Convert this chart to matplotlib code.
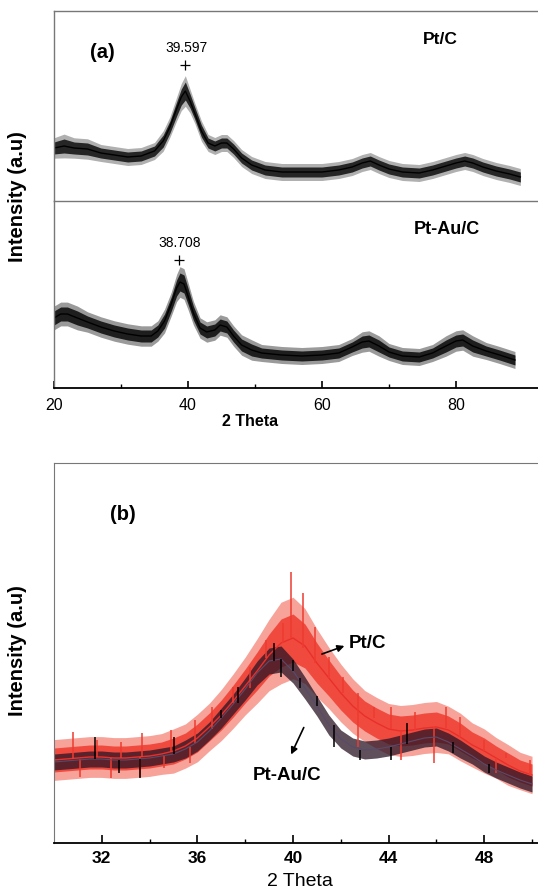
import numpy as np
import matplotlib
matplotlib.use('Agg')
import matplotlib.pyplot as plt

plt.rcParams['font.family'] = ['Liberation Sans', 'DejaVu Sans']

# ---- panel (a): wide scan, two stacked traces ----
a_x = [20, 21.5, 23, 25, 27, 29, 31, 33, 35, 36.3, 37.3, 38.3, 39.0, 39.6, 40.3, 41.0, 42.0,
       43.0, 44.0, 45.0, 45.8, 46.8, 48.0, 49.5, 51.5, 54, 57, 60, 62.5, 64.5, 66, 67.2,
       68.5, 70, 72, 74.5, 76.5, 78.5, 80, 81.3, 82.5, 84, 86, 88, 89.6]
a_ptc = [53, 55, 53, 52, 48, 46, 44, 45, 50, 60, 74, 92, 104, 110, 100, 88, 70,
         58, 55, 58, 58, 52, 43, 36, 31, 29, 29, 29, 31, 34, 38, 40,
         36, 32, 29, 28, 31, 35, 38, 40, 38, 34, 30, 27, 24]
a_ptc_noise = [6, 7, 6, 6, 5, 5, 5, 5, 5, 6, 6, 7, 8, 9, 7, 6, 6,
               5, 5, 5, 5, 5, 5, 5, 5, 5, 5, 5, 5, 5, 5, 5,
               5, 5, 5, 5, 5, 5, 5, 5, 5, 5, 5, 5, 5]

a2_x = [20, 21, 22, 23.5, 25, 27, 29, 31, 33, 34.5, 35.5, 36.5, 37.5, 38.3, 38.8, 39.4, 40.0,
        40.8, 41.8, 42.8, 44.0, 44.8, 45.8, 46.8, 48, 49.5, 51, 54, 57, 60, 62.5, 64.5,
        66, 67, 68.5, 70, 72, 74.5, 76.5, 78.5, 80, 81, 82.5, 84.5, 86.5, 88.8]
a_ptau = [70, 74, 74, 70, 66, 61, 57, 54, 52, 52, 57, 67, 84, 100, 106, 104, 92,
          75, 60, 56, 58, 63, 61, 52, 43, 38, 35, 33, 32, 33, 35, 41,
          46, 47, 42, 36, 32, 31, 35, 42, 47, 48, 42, 37, 33, 28]
a_ptau_noise = [7, 7, 7, 7, 6, 6, 6, 6, 6, 6, 6, 7, 7, 8, 9, 9, 8,
                7, 6, 6, 6, 6, 6, 6, 6, 6, 5, 5, 5, 5, 5, 5,
                6, 6, 6, 5, 5, 5, 5, 6, 6, 6, 6, 5, 5, 5]

# ---- panel (b): zoom on the (111) peak ----
b_x = [30.0, 30.5, 31.0, 31.5, 32.0, 32.5, 33.0, 33.5, 34.0, 34.5, 35.0, 35.5, 36.0, 36.5,
       37.0, 37.5, 38.0, 38.5, 39.0, 39.5, 40.0, 40.5, 41.0, 41.5, 42.0, 42.5, 43.0, 43.5,
       44.0, 44.5, 45.0, 45.5, 46.0, 46.5, 47.0, 47.5, 48.0, 48.5, 49.0, 49.5, 50.0]
b_ptc = [83, 84, 85, 86, 86, 85, 85, 86, 87, 89, 92, 97, 105, 116,
         128, 142, 157, 172, 188, 200, 205, 197, 180, 165, 150, 137, 127, 120,
         114, 112, 113, 115, 116, 113, 106, 98, 92, 85, 78, 72, 68]
b_ptc_noise = [12, 12, 12, 12, 12, 12, 12, 12, 12, 12, 13, 13, 14, 14,
               15, 16, 17, 19, 21, 24, 24, 22, 20, 18, 17, 16, 15, 15,
               15, 15, 15, 15, 15, 14, 14, 13, 13, 12, 12, 11, 11]
b_ptau = [81, 82, 83, 84, 84, 83, 83, 84, 85, 87, 89, 94, 101, 112,
          125, 139, 154, 170, 182, 184, 172, 155, 137, 118, 104, 96, 93, 94,
          96, 99, 102, 105, 106, 101, 94, 87, 79, 73, 68, 63, 59]
b_ptau_noise = [8, 8, 8, 8, 8, 8, 8, 8, 8, 8, 8, 9, 9, 9,
                10, 10, 11, 12, 13, 13, 12, 11, 10, 10, 9, 9, 9, 9,
                9, 9, 9, 9, 9, 9, 9, 8, 8, 8, 8, 8, 8]

# single noise spikes (x, bottom, top)
b_ptc_spk_x = [30.8, 31.1, 31.8, 32.4, 32.8, 33.6, 33.7, 34.6, 34.9, 35.7, 35.9, 36.6, 37.5, 38.2,
               38.85, 39.6, 39.9, 40.4, 40.9, 41.5, 42.1, 42.7, 42.7, 43.4, 44.1, 44.5, 45.1,
               45.9, 46.4, 47.0, 48.0, 48.5, 48.9, 49.9]
b_ptc_spk_lo = [84, 66, 86, 65, 85, 66, 86, 75, 91, 80, 100, 114, 140, 155,
                185, 200, 205, 195, 180, 165, 150, 96, 137, 125, 114, 83, 113,
                80, 115, 106, 92, 70, 85, 68]
b_ptc_spk_hi = [111, 84, 103, 85, 101, 86, 110, 88, 113, 96, 123, 136, 156, 176,
                203, 220, 271, 250, 216, 186, 166, 137, 150, 136, 136, 112, 131,
                116, 136, 126, 103, 85, 90, 83]
b_ptau_spk_x = [31.7, 32.7, 33.6, 35.0, 37.0, 37.7, 39.2, 39.5, 40.0, 40.3, 41.0, 41.7, 42.8,
                44.1, 44.75, 46.7, 48.2]
b_ptau_spk_lo = [84, 70, 65, 89, 125, 140, 182, 166, 172, 155, 137, 96, 83, 83, 99, 90, 70]
b_ptau_spk_hi = [106, 83, 84, 106, 133, 156, 200, 184, 183, 165, 147, 118, 93, 96, 120, 101, 79]


def band(ax, x, y, n, line, core, fringe, lw=1.0):
    x = np.array(x, dtype=float)
    y = np.array(y, dtype=float)
    n = np.array(n, dtype=float)
    ax.fill_between(x, y - 1.7 * n, y + 1.7 * n, color=fringe, lw=0)
    ax.fill_between(x, y - n, y + n, color=core, lw=0)
    ax.plot(x, y, color=line, lw=lw)


W, H = 538, 892
fig = plt.figure(figsize=(W / 100, H / 100), dpi=100)
frame = '#777777'

def px_ax(l, t, r, b):
    return fig.add_axes([l / W, 1 - b / H, (r - l) / W, (b - t) / H])

a1 = px_ax(54, 11, 545, 201)
a2 = px_ax(54, 201, 545, 388)
for ax in (a1, a2):
    ax.set_xlim(20, 20 + 491 / 6.7)
    ax.set_yticks([])
    for s in ax.spines.values():
        s.set_color(frame)
        s.set_linewidth(1.0)
a1.set_ylim(0, 190)
a2.set_ylim(0, 187)
a1.set_xticks([])
a1.spines['bottom'].set_visible(False)

band(a1, a_x, a_ptc, a_ptc_noise, 'black', '#262626', '#b0b0b0')
band(a2, a2_x, a_ptau, a_ptau_noise, 'black', '#1e1e1e', '#9a9a9a')

a1.plot([39.6], [136], marker='+', color='black', ms=7, mew=0.9)
a1.text(39.85, 153, '39.597', ha='center', va='center', fontsize=10)
a1.text(27.2, 148, '(a)', ha='center', va='center', fontsize=14.5, fontweight='bold')
a1.text(77.6, 161, 'Pt/C', ha='center', va='center', fontsize=12.5, fontweight='bold')

a2.plot([38.7], [128], marker='+', color='black', ms=7, mew=0.9)
a2.text(38.8, 145, '38.708', ha='center', va='center', fontsize=10)
a2.text(78.7, 158, 'Pt-Au/C', ha='center', va='center', fontsize=13, fontweight='bold')

a2.spines['bottom'].set_color('black')
a2.spines['bottom'].set_linewidth(1.3)
a2.set_xticks([20, 40, 60, 80])
a2.set_xticks([30, 50, 70], minor=True)
a2.tick_params(axis='x', which='major', direction='in', length=5, width=1.2, labelsize=11.5, pad=7)
a2.tick_params(axis='x', which='minor', direction='in', length=3, width=1.0)
fig.text(250 / W, 1 - 422 / H, '2 Theta', ha='center', va='center', fontsize=11.5, fontweight='bold')
fig.text(18 / W, 1 - 197 / H, 'Intensity (a.u)', rotation=90, ha='center', va='center',
         fontsize=14.5, fontweight='bold')

# panel (b)
b = px_ax(54, 463, 545, 843)
b.set_xlim(30, 30 + 491 / 23.9)
b.set_ylim(0, 380)
b.set_yticks([])
for s in b.spines.values():
    s.set_color(frame)
b.spines['bottom'].set_color('black')
b.spines['bottom'].set_linewidth(1.3)

band(b, b_x, b_ptc, b_ptc_noise, '#e8302a', '#f04a3e', '#f7a39a')
b.vlines(b_ptc_spk_x, b_ptc_spk_lo, b_ptc_spk_hi, color='#ee3b30', lw=1.1)
bx = np.array(b_x)
by = np.array(b_ptau, dtype=float)
bn = np.array(b_ptau_noise, dtype=float)
b.fill_between(bx, by - bn, by + bn, color='#2a1526', alpha=0.75, lw=0)
b.plot(bx, by, color='#5a4a6a', lw=0.8)
b.vlines(b_ptau_spk_x, b_ptau_spk_lo, b_ptau_spk_hi, color='black', lw=1.1)

b.annotate('', xy=(42.26, 198), xytext=(41.1, 188),
           arrowprops=dict(arrowstyle='-|>', color='black', lw=1.2, mutation_scale=10))
b.text(42.35, 200, 'Pt/C', ha='left', va='center', fontsize=13.5, fontweight='bold')
b.annotate('', xy=(39.87, 86), xytext=(40.5, 118),
           arrowprops=dict(arrowstyle='-|>', color='black', lw=1.2, mutation_scale=10))
b.text(39.75, 68, 'Pt-Au/C', ha='center', va='center', fontsize=13.5, fontweight='bold')
b.text(32.9, 328, '(b)', ha='center', va='center', fontsize=14.5, fontweight='bold')

b.set_xticks([32, 36, 40, 44, 48])
b.set_xticks([34, 38, 42, 46, 50], minor=True)
b.tick_params(axis='x', which='major', direction='in', length=6, width=1.2, labelsize=12.5, pad=6)
b.tick_params(axis='x', which='minor', direction='in', length=3, width=1.0)
for lab in b.get_xticklabels():
    lab.set_fontweight('bold')
fig.text(300 / W, 1 - 882 / H, '2 Theta', ha='center', va='center', fontsize=14)
fig.text(18 / W, 1 - 651 / H, 'Intensity (a.u)', rotation=90, ha='center', va='center',
         fontsize=14.5, fontweight='bold')

fig.savefig('out.png', dpi=100)
